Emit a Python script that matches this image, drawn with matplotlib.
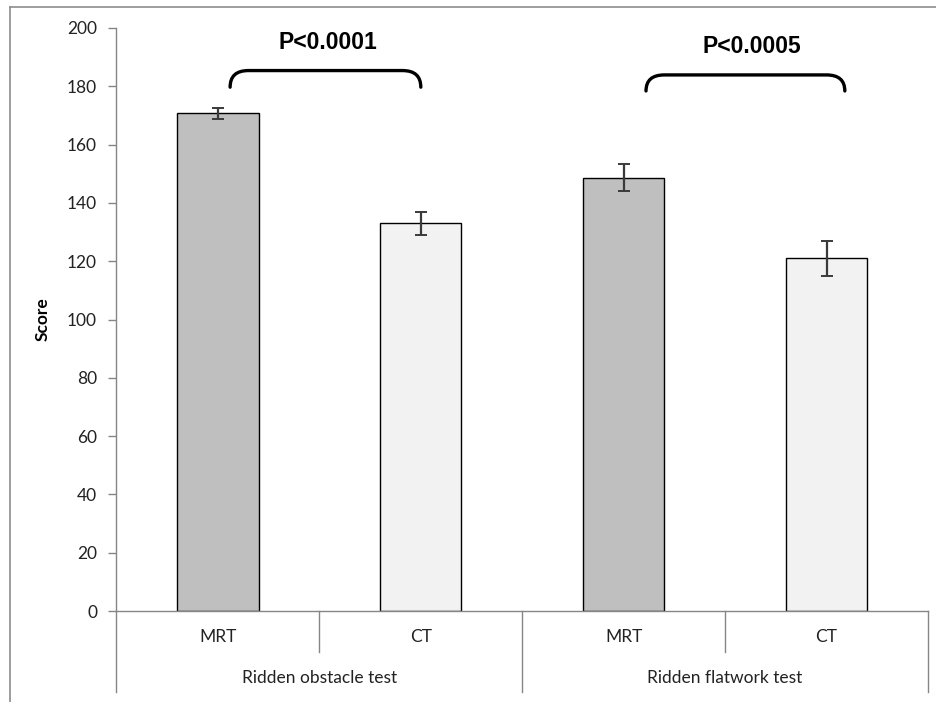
import matplotlib

matplotlib.use("Agg")
import matplotlib.pyplot as plt
from matplotlib.lines import Line2D
from matplotlib.patches import PathPatch
from matplotlib.path import Path
from matplotlib.transforms import blended_transform_factory

# data
groups = ["Ridden obstacle test", "Ridden flatwork test"]
treatments = ["MRT", "CT", "MRT", "CT"]
scores = [170.7, 133.0, 148.6, 121.0]
errors = [1.9, 4.0, 4.6, 6.0]
bar_colors = ["#bfbfbf", "#f2f2f2", "#bfbfbf", "#f2f2f2"]
p_labels = ["P<0.0001", "P<0.0005"]
yticks = list(range(0, 201, 20))

W, H = 937, 702
fig = plt.figure(figsize=(W / 100, H / 100), dpi=100)
ax = fig.add_axes([116.5 / W, (H - 611) / H, (928 - 116.5) / W, (611 - 28) / H])

axis_grey = "#868686"
x = list(range(len(scores)))
ax.bar(x, scores, width=0.4, color=bar_colors, edgecolor="black", linewidth=1.0, zorder=2)
ax.errorbar(x, scores, yerr=errors, fmt="none", ecolor="#3a3a3a", elinewidth=1.6,
            capsize=4, capthick=1.4, zorder=3)

ax.set_xlim(-0.5, 3.5)
ax.set_ylim(0, 200)
ax.set_yticks(yticks)
ax.set_xticks([])
ax.tick_params(axis="y", direction="out", length=6, width=1, color=axis_grey,
               labelsize=12.5, pad=8, labelcolor="#222222")
for lab in ax.get_yticklabels():
    lab.set_family("Lato")
for side in ("top", "right"):
    ax.spines[side].set_visible(False)
for side in ("left", "bottom"):
    ax.spines[side].set_color(axis_grey)
    ax.spines[side].set_linewidth(1.0)
ax.set_ylabel("Score", family="Lato", fontweight="bold", fontsize=12.5, labelpad=12)

# two-level category axis
trans = blended_transform_factory(ax.transData, ax.transAxes)
short, long_ = -41 / 583, -81 / 583
for i, b in enumerate([-0.5, 0.5, 1.5, 2.5, 3.5]):
    depth = long_ if i % 2 == 0 else short
    ax.add_line(Line2D([b, b], [0, depth], transform=trans, color=axis_grey,
                       linewidth=1.0, clip_on=False))
for xi, name in zip(x, treatments):
    ax.text(xi, -26 / 583, name, transform=trans, ha="center", va="center",
            family="Lato", fontsize=12.5, color="#222222")
for gi, name in enumerate(groups):
    ax.text(2 * gi + 0.5, -67 / 583, name, transform=trans, ha="center", va="center",
            family="Lato", fontsize=12.5, color="#222222")

# significance brackets
brackets = [(0.06, 1.0, 185.4, 179.7), (2.11, 3.09, 183.9, 178.4)]
text_pos = [(0.54, 194.9), (2.63, 193.6)]
for (x0, x1, top, end), (tx, ty), label in zip(brackets, text_pos, p_labels):
    dx = 0.09
    verts = [(x0, end), (x0, top), (x0 + dx, top), (x1 - dx, top), (x1, top), (x1, end)]
    codes = [Path.MOVETO, Path.CURVE3, Path.CURVE3, Path.LINETO, Path.CURVE3, Path.CURVE3]
    ax.add_patch(PathPatch(Path(verts, codes), facecolor="none", edgecolor="black",
                           linewidth=2.4, capstyle="round", clip_on=False))
    ax.text(tx, ty, label, ha="center", va="center", family="Liberation Sans",
            fontweight="bold", fontsize=16.5)

# outer chart border (top and left edges)
fig.add_artist(Line2D([10 / W, 1], [1 - 6.5 / H, 1 - 6.5 / H], color="#8c8c8c", linewidth=1.2))
fig.add_artist(Line2D([10 / W, 10 / W], [0, 1 - 6.5 / H], color="#8c8c8c", linewidth=1.2))

fig.savefig("out.png", dpi=100)
